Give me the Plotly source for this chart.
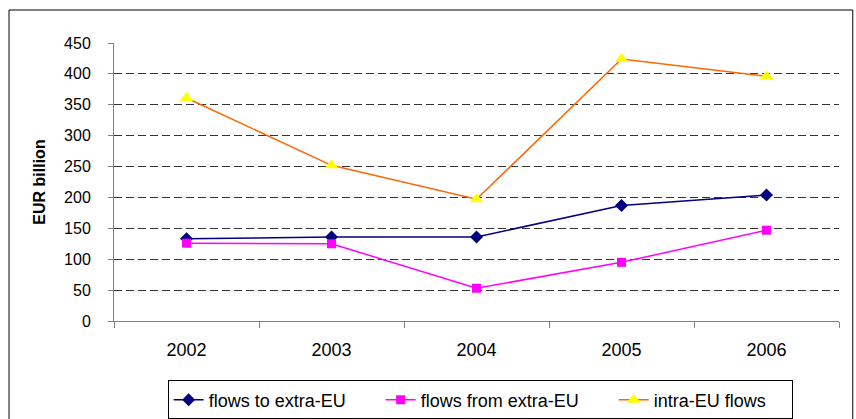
import plotly.graph_objects as go

years = ["2002", "2003", "2004", "2005", "2006"]
flows_to_extra = [133, 136, 136, 187, 204]
flows_from_extra = [126, 125, 53, 95, 147]
intra_eu = [361, 252, 197, 424, 396]
y_ticks = [0, 50, 100, 150, 200, 250, 300, 350, 400, 450]
series_names = ["flows to extra-EU", "flows from extra-EU", "intra-EU flows"]

FONT = "Liberation Sans, Arial, sans-serif"
PAD = "\u00a0" * 6
PAD_END = "\u00a0" * 4

fig = go.Figure()
fig.add_trace(go.Scatter(
    x=years, y=flows_to_extra, name=series_names[0] + PAD, mode="lines+markers",
    line=dict(color="#000080", width=1.5),
    marker=dict(symbol="diamond", size=10, color="#000080")))
fig.add_trace(go.Scatter(
    x=years, y=flows_from_extra, name=series_names[1] + PAD, mode="lines+markers",
    line=dict(color="#FF00FF", width=1.5),
    marker=dict(symbol="square", size=9, color="#FF00FF")))
fig.add_trace(go.Scatter(
    x=years, y=intra_eu, name=series_names[2] + PAD_END, mode="lines+markers",
    line=dict(color="#FF6600", width=1.5),
    marker=dict(symbol="triangle-up", size=12, color="#FFFF00")))

fig.update_layout(
    width=856, height=419,
    margin=dict(l=114, r=17, t=43, b=98, autoexpand=False),
    paper_bgcolor="white", plot_bgcolor="white",
    font=dict(family=FONT, size=16, color="black"),
    showlegend=True,
    legend=dict(orientation="h", x=0.505, xanchor="center",
                yref="container", y=0.092, yanchor="top",
                bordercolor="black", borderwidth=1, font=dict(size=18),
                tracegroupgap=0),
    shapes=[dict(type="rect", xref="paper", yref="paper",
                 x0=-0.1448, x1=1.019, y0=-0.37, y1=1.1187,
                 line=dict(color="black", width=1), fillcolor="rgba(0,0,0,0)")],
)
fig.update_xaxes(
    type="category", showline=True, linecolor="#808080", linewidth=1,
    ticks="outside", tickson="boundaries", ticklen=6, tickcolor="#808080",
    showgrid=False, ticklabelstandoff=12, tickfont=dict(size=18),
    range=[-0.5, 4.5], automargin=False)
fig.update_yaxes(
    range=[0, 450], tickvals=y_ticks, showline=True, linecolor="#808080", linewidth=1,
    ticks="outside", ticklen=5, tickcolor="#808080",
    showgrid=True, gridcolor="#333333", griddash="8px,4px", gridwidth=1,
    zeroline=False, tickfont=dict(size=16), ticklabelstandoff=14, automargin=False,
    title=dict(text="<b>EUR billion</b>", font=dict(size=16), standoff=14))

fig.write_html("out.html")
